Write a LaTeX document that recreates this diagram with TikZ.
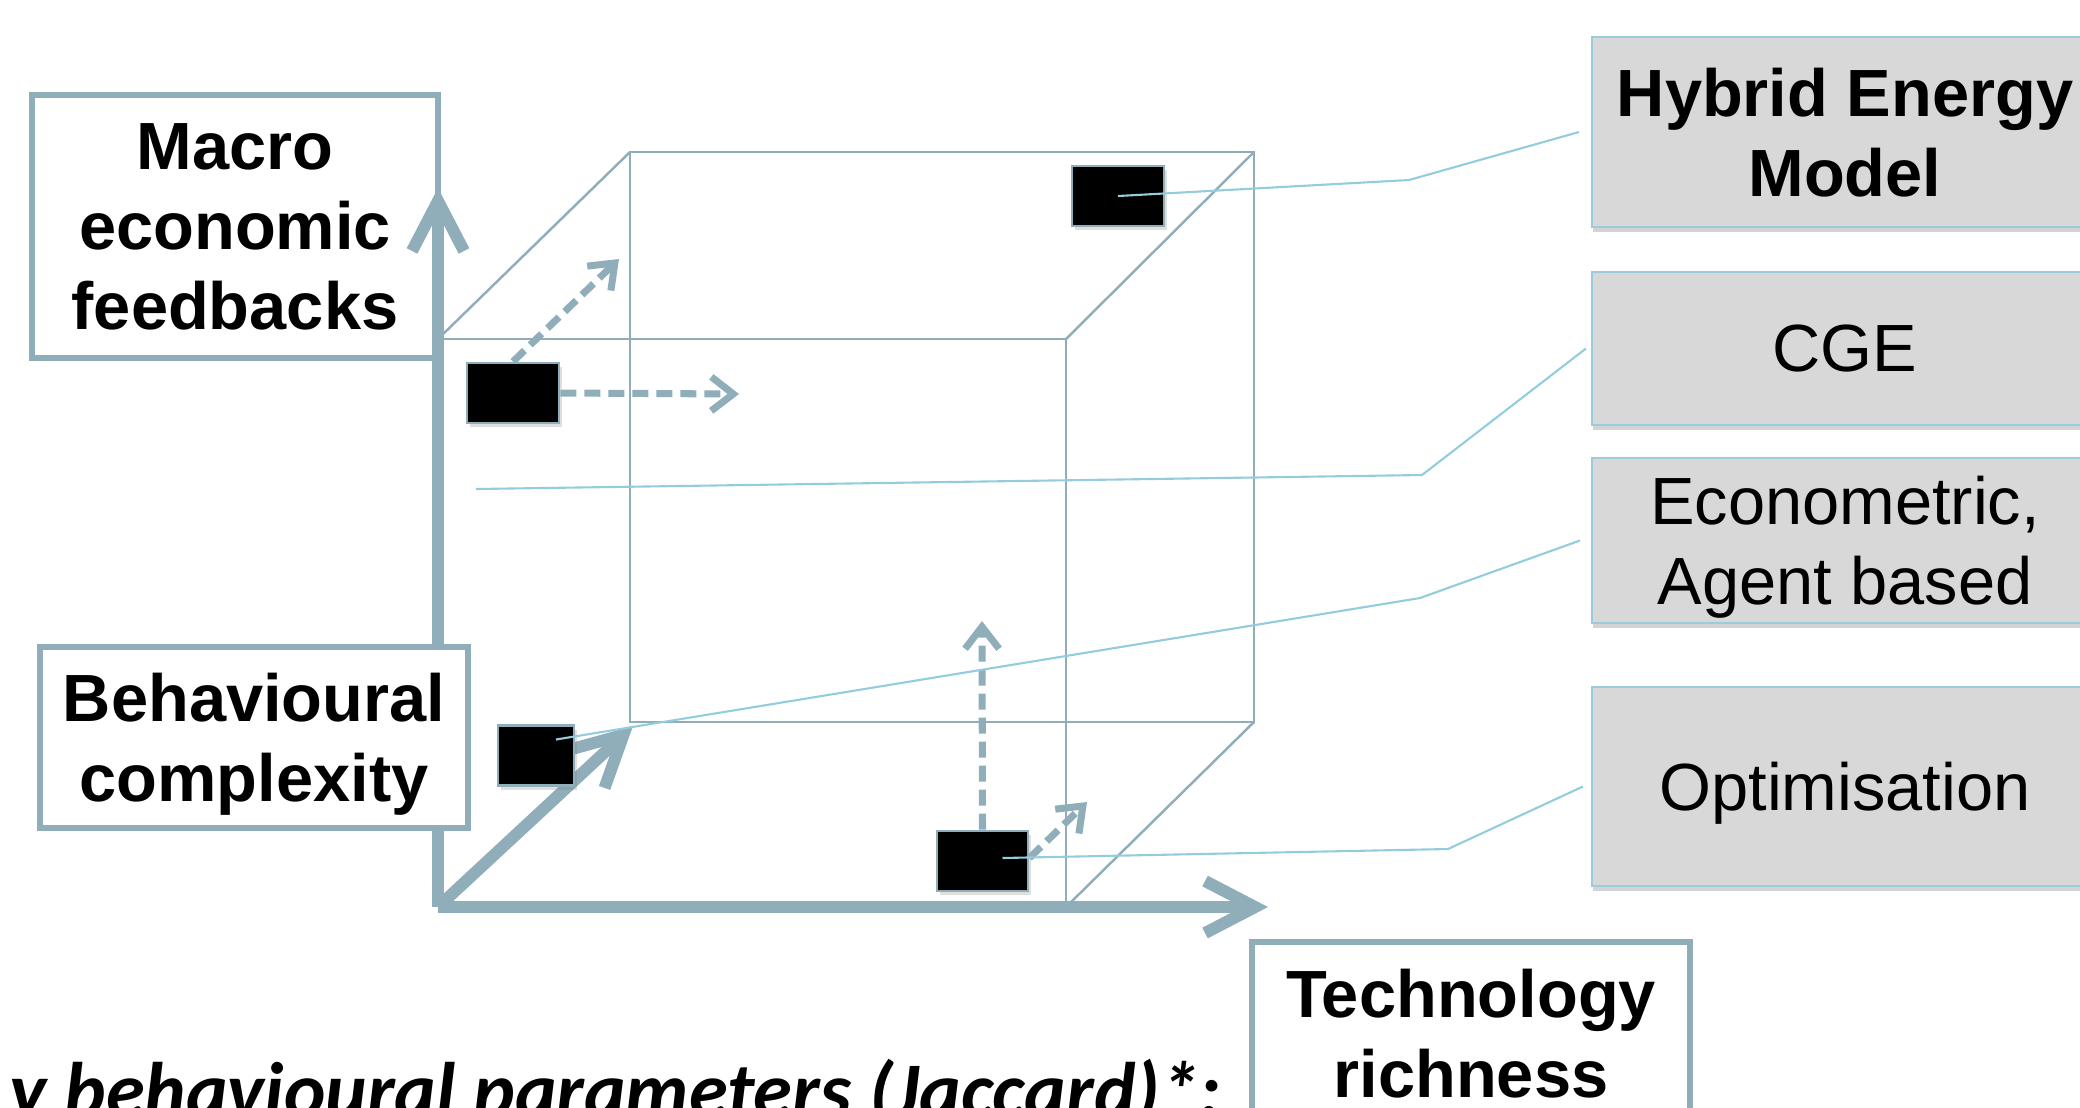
\documentclass[tikz,border=0pt]{standalone}
\usepackage{fontspec}
\setmainfont{Liberation Sans}
\newfontfamily\notefont{Carlito}
\usetikzlibrary{arrows.meta,positioning,shadows}
\definecolor{axiscol}{HTML}{8FAEBA}
\definecolor{linkcol}{HTML}{93CCDC}
\definecolor{modelfill}{HTML}{D8D8D8}
\definecolor{modeldraw}{HTML}{9CCBDB}
\tikzset{
  axisline/.style={draw=axiscol,line width=3.4pt,-{Straight Barb[length=5mm,width=5.2mm]}},
  cubeline/.style={draw=axiscol,line width=0.7pt},
  hint/.style={draw=axiscol,line width=2pt,dash pattern=on 1.6mm off 0.8mm,-{Straight Barb[length=2.2mm,width=3.4mm]}},
  link/.style={draw=linkcol,line width=0.6pt},
  dimbox/.style={draw=axiscol,line width=1.5pt,fill=white,inner sep=0pt,align=center,
    font=\bfseries\fontsize{19}{22.8}\selectfont,text depth=0pt},
  modelbox/.style={draw=modeldraw,line width=0.6pt,fill=modelfill,minimum width=5.06cm,inner sep=0pt,align=center,
    font=\fontsize{19}{22.8}\selectfont,text depth=0pt,
    drop shadow={shadow xshift=0.3pt,shadow yshift=-1.5pt,opacity=0.35}},
  modelpt/.style={draw=axiscol,line width=0.8pt,fill=black,minimum height=0.6cm,inner sep=0pt,
    drop shadow={shadow xshift=0.8pt,shadow yshift=-1.2pt,opacity=0.25}}
}
\newcommand{\modelpt}[3]{\node[modelpt,minimum width=#3] (#1) at (#2) {};}

\begin{document}
\begin{tikzpicture}[x=1cm,y=1cm]
\useasboundingbox (0,0) rectangle (20.8,-11.07);
\clip (0,0) rectangle (20.8,-11.07);

% cube corners
\coordinate (O) at (4.38,-9.07);
\coordinate (ftl) at (4.38,-3.39);
\coordinate (ftr) at (10.66,-3.39);
\coordinate (fbr) at (10.66,-9.07);
\coordinate (btl) at (6.30,-1.52);
\coordinate (btr) at (12.54,-1.52);
\coordinate (bbr) at (12.54,-7.22);
\coordinate (bbl) at (6.30,-7.22);
\coordinate (ytip) at (4.38,-1.88);
\coordinate (xtip) at (12.68,-9.07);
\coordinate (ztip) at (6.33,-7.26);

% wire frame
\draw[cubeline] (ftl) -- (ftr) -- (fbr);
\draw[cubeline] (btl) -- (btr) -- (bbr) -- (bbl) -- cycle;
\draw[cubeline] (ftl) -- (btl);
\draw[cubeline] (ftr) -- (btr);
\draw[cubeline] (fbr) -- (bbr);

% axes and their labels
\node[dimbox,minimum width=4.06cm,minimum height=2.63cm] (macro) at (2.35,-2.265) {Macro\\economic\\feedbacks};
\draw[axisline] (O) -- (ytip);
\draw[axisline] (O) -- (xtip);
\draw[axisline] (O) -- (ztip);
\node[dimbox,minimum width=4.28cm,minimum height=1.81cm] (behav) at (2.54,-7.375) {Behavioural\\complexity};
\node[dimbox,minimum width=4.38cm,minimum height=1.83cm] (tech) at (14.71,-10.335) {Technology\\richness};

% model families placed in the cube
\modelpt{sqhem}{11.18,-1.96}{0.92cm}
\modelpt{sqmacro}{5.13,-3.93}{0.92cm}
\modelpt{sqbehav}{5.36,-7.555}{0.76cm}
\modelpt{sqopt}{9.825,-8.61}{0.91cm}

\coordinate (macroup) at (6.19,-2.59);
\coordinate (macroright) at (7.39,-3.94);
\coordinate (optup) at (9.82,-6.21);
\coordinate (optdeep) at (10.87,-8.02);
\draw[hint] (sqmacro.north) -- (macroup);
\draw[hint] (sqmacro.east) -- (macroright);
\draw[hint] (sqopt.north) -- (optup);
\draw[hint] ([yshift=0.03cm]sqopt.east) -- (optdeep);

% model boxes
\node[modelbox,font=\bfseries\fontsize{19}{22.8}\selectfont,minimum height=1.90cm] (hem) at (18.45,-1.32) {Hybrid Energy\\Model};
\node[modelbox,minimum height=1.53cm] (cge) at (18.45,-3.485) {CGE};
\node[modelbox,minimum height=1.65cm] (econ) at (18.45,-5.405) {Econometric,\\Agent based};
\node[modelbox,minimum height=1.99cm] (optim) at (18.45,-7.865) {Optimisation};

\coordinate (cgept) at (4.76,-4.89);
\draw[link] (sqhem.center) -- (14.09,-1.80) -- ([xshift=-1.2mm]hem.west);
\draw[link] (cgept) -- (14.22,-4.75) -- ([xshift=-0.5mm]cge.west);
\draw[link] ([xshift=0.2cm,yshift=0.16cm]sqbehav.center) -- (14.20,-5.98) -- ([xshift=-1.1mm]econ.west);
\draw[link] ([xshift=0.2cm,yshift=0.03cm]sqopt.center) -- (14.48,-8.49) -- ([xshift=-0.8mm]optim.west);

\node[font=\notefont\bfseries\itshape\fontsize{22.4}{26}\selectfont,anchor=base west,inner sep=0pt] (keynote) at (0.09,-11.17) {y behavioural parameters (Jaccard)*:};
\end{tikzpicture}
\end{document}
